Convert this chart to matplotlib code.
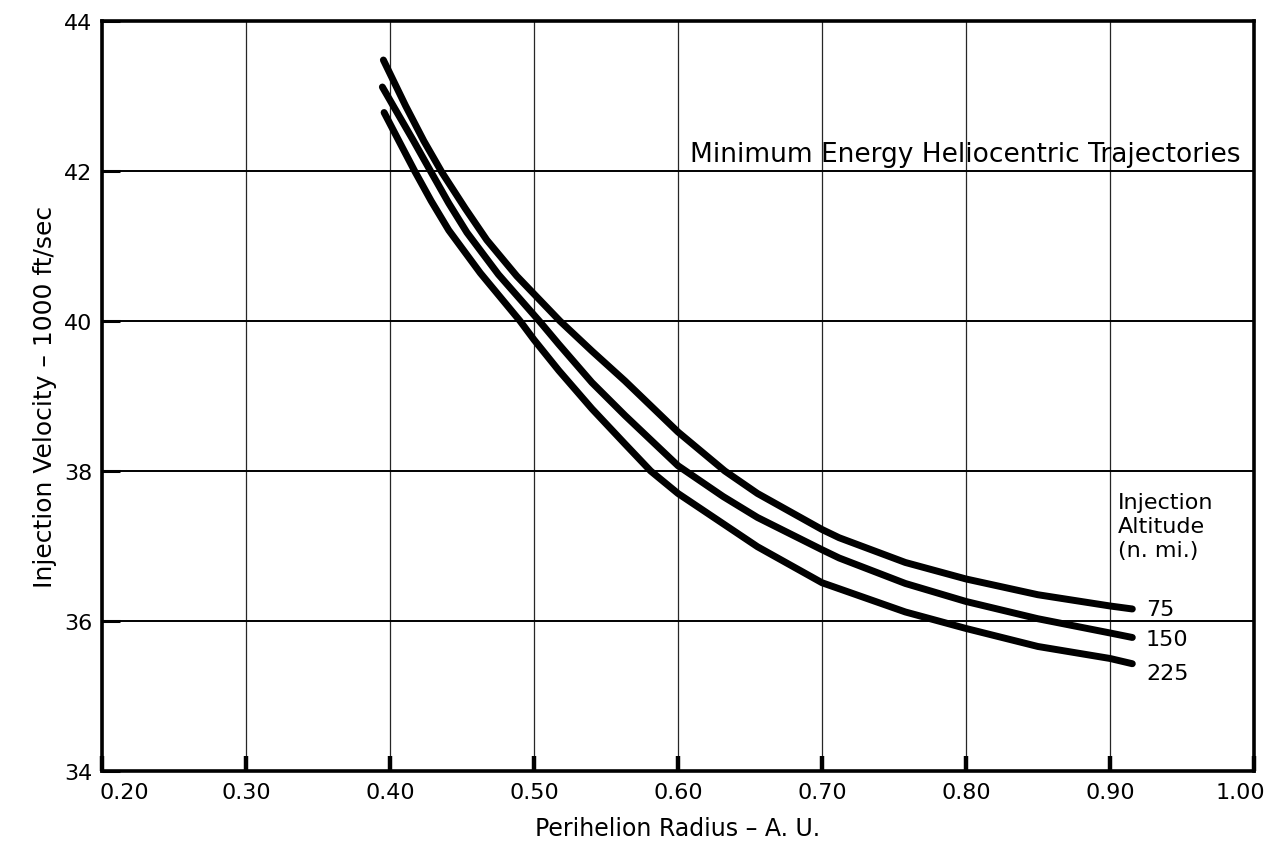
import matplotlib
matplotlib.use("Agg")
import matplotlib.pyplot as plt
from matplotlib.transforms import ScaledTranslation

# Perihelion radius (A.U.) and injection velocity (1000 ft/sec)
x_75 = [0.3954, 0.4108, 0.4235, 0.4361, 0.4523, 0.4672, 0.488, 0.518, 0.5402, 0.5632,
        0.600, 0.6325, 0.6552, 0.700, 0.7119, 0.7579, 0.800, 0.8499, 0.900, 0.9155]
v_75 = [43.48, 42.87, 42.40, 41.98, 41.50, 41.08, 40.60, 40.00, 39.60, 39.20,
        38.52, 38.00, 37.70, 37.22, 37.11, 36.78, 36.56, 36.35, 36.20, 36.16]

x_150 = [0.3947, 0.4028, 0.4161, 0.4281, 0.4408, 0.4534, 0.4753, 0.5041, 0.5172, 0.5402,
         0.5632, 0.600, 0.6313, 0.6552, 0.700, 0.7119, 0.7579, 0.800, 0.8499, 0.900, 0.9155]
v_150 = [43.12, 42.85, 42.41, 42.00, 41.57, 41.18, 40.62, 39.99, 39.69, 39.18,
         38.74, 38.07, 37.66, 37.38, 36.95, 36.84, 36.50, 36.26, 36.03, 35.84, 35.78]

x_225 = [0.3959, 0.4062, 0.4171, 0.4286, 0.4408, 0.4627, 0.4903, 0.500, 0.5172, 0.5402,
         0.5632, 0.581, 0.600, 0.6552, 0.700, 0.7119, 0.7579, 0.800, 0.8499, 0.900, 0.9155]
v_225 = [42.78, 42.40, 42.00, 41.60, 41.21, 40.64, 40.00, 39.75, 39.34, 38.83,
         38.36, 38.00, 37.70, 36.99, 36.51, 36.43, 36.12, 35.90, 35.66, 35.50, 35.43]

altitudes = ["75", "150", "225"]
x_ticks = [0.20, 0.30, 0.40, 0.50, 0.60, 0.70, 0.80, 0.90, 1.00]
x_ticklabels = ["0.20", "0.30", "0.40", "0.50", "0.60", "0.70", "0.80", "0.90", "1.00"]
y_ticks = [34, 36, 38, 40, 42, 44]

fig = plt.figure(figsize=(12.88, 8.53), dpi=100)
ax = fig.add_axes([0.0792, 0.0950, 0.8944, 0.8792])

ax.set_xlim(0.20, 1.00)
ax.set_ylim(34, 44)

series = [(x_75, v_75), (x_150, v_150), (x_225, v_225)]
for xs, vs in series:
    ax.plot(xs, vs, color="black", lw=5, solid_capstyle="round", solid_joinstyle="round", zorder=3)

ax.set_xticks(x_ticks)
ax.set_xticklabels(x_ticklabels)
ax.set_yticks(y_ticks)

ax.grid(axis="x", color="0.15", lw=0.9, zorder=1)
ax.grid(axis="y", color="black", lw=1.4, zorder=1)

for sp in ax.spines.values():
    sp.set_linewidth(2.6)
    sp.set_color("black")

ax.tick_params(axis="x", direction="in", length=11, width=3.2, labelsize=16, pad=8)
ax.tick_params(axis="y", direction="in", length=13, width=2.2, labelsize=16, pad=7)

# shift first and last x tick labels inward like the original
xt = ax.get_xticklabels()
xt[0].set_transform(xt[0].get_transform() + ScaledTranslation(0.22, 0, fig.dpi_scale_trans))
xt[-1].set_transform(xt[-1].get_transform() + ScaledTranslation(-0.14, 0, fig.dpi_scale_trans))

ax.set_xlabel("Perihelion Radius \u2013 A. U.", fontsize=17, labelpad=10)
ax.set_ylabel("Injection Velocity \u2013 1000 ft/sec", fontsize=18, labelpad=5)

ax.text(0.608, 42.13, "Minimum Energy Heliocentric Trajectories", fontsize=19,
        ha="left", va="baseline")

ax.text(0.9056, 37.72, "Injection\nAltitude\n(n. mi.)", fontsize=16, ha="left", va="top",
        linespacing=1.25)

label_y = [36.16, 35.76, 35.31]
for lab, yy in zip(altitudes, label_y):
    ax.text(0.925, yy, lab, fontsize=16, ha="left", va="center")

fig.savefig("out.png", dpi=100)
